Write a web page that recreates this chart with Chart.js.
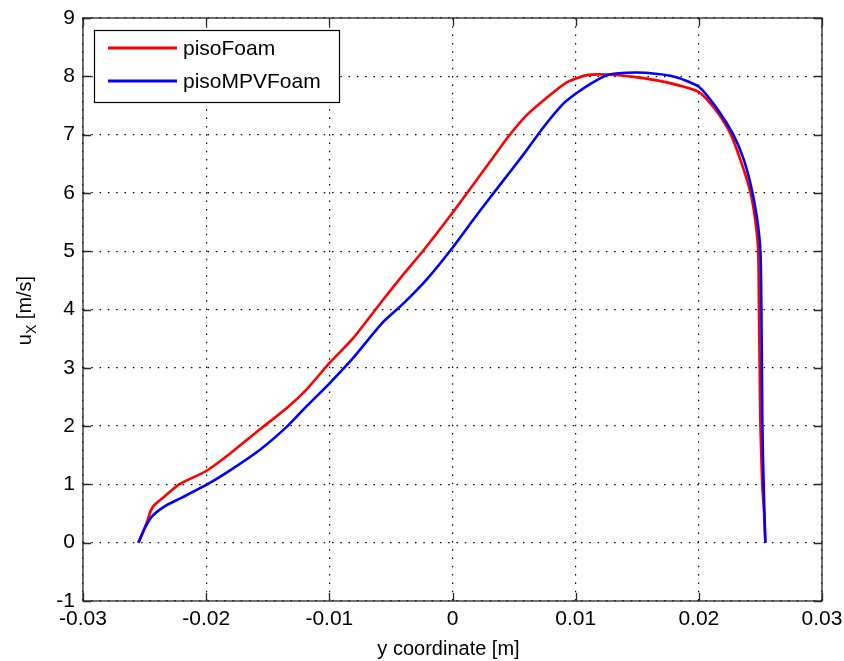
<!DOCTYPE html>
<html>
<head>
<meta charset="utf-8">
<script src="https://cdn.jsdelivr.net/npm/chart.js@4"></script>
<style>
  html, body { margin: 0; padding: 0; background: #fff; }
  #wrap { width: 844px; height: 661px; }
</style>
</head>
<body>
<div id="wrap"><canvas id="chart" width="844" height="661"></canvas></div>
<script>
// ---------- data ----------
const xTicks = [-0.03, -0.02, -0.01, 0, 0.01, 0.02, 0.03];
const yTicks = [-1, 0, 1, 2, 3, 4, 5, 6, 7, 8, 9];

const pisoX = [-0.0255, -0.0251, -0.0248, -0.0245, -0.0242, -0.0238, -0.0234, -0.0222, -0.0200,
    -0.0180, -0.0156, -0.0134, -0.0118, -0.0100, -0.0081, -0.0057, -0.0040, -0.0023, 0.0000,
    0.0015, 0.0031, 0.0044, 0.0060, 0.0077, 0.0093, 0.0109, 0.0125, 0.0147, 0.0173, 0.0200,
    0.0216, 0.0226, 0.0235, 0.0242, 0.0246, 0.02482, 0.02488, 0.02494, 0.02500, 0.02515, 0.0253, 0.0254];
const pisoY = [0.00, 0.20, 0.36, 0.55, 0.65, 0.72, 0.79, 1.00, 1.23,
    1.54, 1.95, 2.32, 2.64, 3.08, 3.50, 4.15, 4.60, 5.03, 5.66,
    6.09, 6.55, 6.93, 7.33, 7.64, 7.90, 8.02, 8.03, 7.99, 7.90, 7.73,
    7.36, 7.00, 6.49, 6.00, 5.50, 5.00, 4.00, 3.00, 2.00, 1.00, 0.50, 0.00];

const mpvX = [-0.0255, -0.0250, -0.0244, -0.0234, -0.0221, -0.0200, -0.0180, -0.0156, -0.0134,
    -0.0118, -0.0100, -0.0081, -0.0057, -0.0040, -0.0020, 0.0000, 0.0020, 0.0039, 0.0058,
    0.0074, 0.0090, 0.0100, 0.0112, 0.0125, 0.0141, 0.0157, 0.0181, 0.0200, 0.0216, 0.0228,
    0.0236, 0.0242, 0.0247, 0.0250, 0.02508, 0.02516, 0.02526, 0.0254];
const mpvY = [0.00, 0.24, 0.45, 0.62, 0.76, 0.99, 1.25, 1.60, 2.00,
    2.35, 2.73, 3.16, 3.77, 4.10, 4.54, 5.06, 5.63, 6.15, 6.67,
    7.13, 7.53, 7.70, 7.87, 8.02, 8.06, 8.06, 7.99, 7.82, 7.41, 7.00,
    6.60, 6.15, 5.60, 5.00, 4.00, 2.00, 1.00, 0.00];

const seriesNames = ['pisoFoam', 'pisoMPVFoam'];
const seriesColors = ['rgb(255,0,0)', 'rgb(0,0,255)'];

// ---------- helpers ----------
const FONT = '"Liberation Sans", Arial, sans-serif';
function toPoints(xs, ys) {
    return xs.map((x, i) => ({ x: x, y: ys[i] }));
}
function fmtTick(v) {
    const r = Math.round(v * 100) / 100;
    return String(r);
}

// ---------- matlab-like frame, ticks, titles, legend ----------
const matlabFrame = {
    id: 'matlabFrame',
    afterDatasetsDraw(chart) {
        const c = chart.ctx;
        const a = chart.chartArea;
        const sx = chart.scales.x;
        const sy = chart.scales.y;
        c.save();
        // box
        c.strokeStyle = '#262626';
        c.lineWidth = 1.3;
        c.strokeRect(a.left, a.top, a.right - a.left, a.bottom - a.top);
        // inward tick marks on all four sides
        const tl = 8;
        c.beginPath();
        xTicks.forEach(v => {
            const px = Math.round(sx.getPixelForValue(v)) + 0.5;
            c.moveTo(px, a.bottom); c.lineTo(px, a.bottom - tl);
            c.moveTo(px, a.top); c.lineTo(px, a.top + tl);
        });
        yTicks.forEach(v => {
            const py = Math.round(sy.getPixelForValue(v)) + 0.5;
            c.moveTo(a.left, py); c.lineTo(a.left + tl, py);
            c.moveTo(a.right, py); c.lineTo(a.right - tl, py);
        });
        c.stroke();

        // x title
        c.fillStyle = '#000';
        c.font = '20px ' + FONT;
        c.textAlign = 'center';
        c.textBaseline = 'alphabetic';
        c.fillText('y coordinate [m]', (a.left + a.right) / 2 - 4, 655);

        // y title with subscript, rotated
        c.translate(31, (a.top + a.bottom) / 2 + 1);
        c.rotate(-Math.PI / 2);
        c.textAlign = 'left';
        const fMain = '20px ' + FONT, fSub = '14px ' + FONT;
        c.font = fMain; const w1 = c.measureText('u').width;
        c.font = fSub;  const w2 = c.measureText('X').width;
        c.font = fMain; const w3 = c.measureText(' [m/s]').width;
        let x0 = -(w1 + w2 + w3) / 2;
        c.font = fMain; c.fillText('u', x0, 0); x0 += w1;
        c.font = fSub;  c.fillText('X', x0, 5); x0 += w2;
        c.font = fMain; c.fillText(' [m/s]', x0, 0);
        c.restore();

        // legend box
        c.save();
        const lx = 94, ly = 30, lw = 245, lh = 72;
        c.fillStyle = '#fff';
        c.fillRect(lx, ly, lw, lh);
        c.strokeStyle = '#000';
        c.lineWidth = 1.2;
        c.strokeRect(lx + 0.5, ly + 0.5, lw, lh);
        c.font = '21px ' + FONT;
        c.textAlign = 'left';
        c.textBaseline = 'middle';
        chart.data.datasets.forEach((ds, i) => {
            const yy = ly + 18 + i * 33;
            c.strokeStyle = ds.borderColor;
            c.lineWidth = 3;
            c.beginPath();
            c.moveTo(lx + 14, yy); c.lineTo(lx + 83, yy);
            c.stroke();
            c.fillStyle = '#000';
            c.fillText(ds.label, lx + 89, yy + 1);
        });
        c.restore();
    }
};

// ---------- chart ----------
const ctx = document.getElementById('chart').getContext('2d');
const chart = new Chart(ctx, {
    type: 'line',
    data: {
        datasets: [
            {
                label: seriesNames[0],
                data: toPoints(pisoX, pisoY),
                borderColor: seriesColors[0],
                borderWidth: 2.6,
                pointRadius: 0,
                tension: 0.2,
                fill: false,
                order: 1
            },
            {
                label: seriesNames[1],
                data: toPoints(mpvX, mpvY),
                borderColor: seriesColors[1],
                borderWidth: 2.6,
                pointRadius: 0,
                tension: 0.2,
                fill: false,
                order: 0
            }
        ]
    },
    options: {
        responsive: false,
        animation: false,
        events: [],
        layout: { padding: { top: 18, right: 22, left: 0, bottom: 0 } },
        plugins: {
            legend: { display: false },
            tooltip: { enabled: false }
        },
        scales: {
            x: {
                type: 'linear',
                min: -0.03, max: 0.03,
                afterBuildTicks: s => { s.ticks = xTicks.map(v => ({ value: v })); },
                afterFit: s => { s.height = 60; s.paddingLeft = 0; s.paddingRight = 0; },
                ticks: {
                    color: '#000',
                    padding: 6,
                    maxRotation: 0,
                    font: { family: FONT, size: 21 },
                    callback: v => fmtTick(v)
                },
                grid: { color: '#000', lineWidth: 1.2, drawTicks: false },
                border: { display: false, dash: [1.5, 6.8] }
            },
            y: {
                type: 'linear',
                min: -1, max: 9,
                afterBuildTicks: s => { s.ticks = yTicks.map(v => ({ value: v })); },
                afterFit: s => { s.width = 83; s.paddingTop = 0; s.paddingBottom = 0; },
                ticks: {
                    color: '#000',
                    padding: 8,
                    font: { family: FONT, size: 21 },
                    callback: v => String(v)
                },
                grid: { color: '#000', lineWidth: 1.2, drawTicks: false },
                border: { display: false, dash: [1.5, 6.8] }
            }
        }
    },
    plugins: [matlabFrame]
});
</script>
</body>
</html>
